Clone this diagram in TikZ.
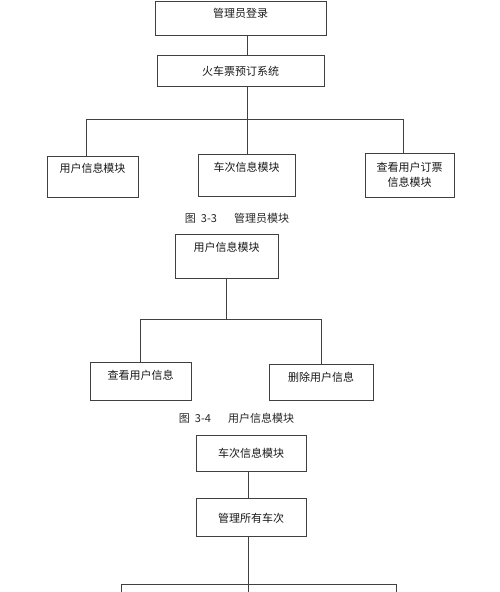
\documentclass[tikz,border=0pt]{standalone}
\usepackage{fontspec}
\newfontfamily\cjk{Noto Sans CJK SC}
\usetikzlibrary{positioning}

\begin{document}
\begin{tikzpicture}[
                x=1pt, y=-1pt,
                font=\cjk\fontsize{11}{15}\selectfont,
                line/.style={draw=black!75, line width=0.9pt},
                modbox/.style={draw=black!75, line width=0.9pt, fill=white, align=center, inner sep=2pt, text=black!90},
                lifted/.style={text height=9.6pt, text depth=#1},
                caption/.style={font=\cjk\fontsize{11}{13}\selectfont, text=black!85}]

    \useasboundingbox [fill=white] (0,0) rectangle (500,592);

    %%% NODES
    \node [modbox, minimum width=171pt, minimum height=34pt, lifted=10.8pt] (adminlogin) at (240.5,18) {管理员登录};
    \node [modbox, minimum width=167pt, minimum height=31pt, below=20pt of adminlogin] (ticketsys) {火车票预订系统};
    \node [modbox, minimum width=91pt, minimum height=41pt, lifted=18.4pt] (usermod) at (92.5,176.5) {用户信息模块};
    \node [modbox, minimum width=97pt, minimum height=42pt, lifted=17.4pt] (trainmod) at (246.5,175) {车次信息模块};
    \node [modbox, minimum width=89pt, minimum height=44pt] (ordermod) at (409.5,175) {查看用户订票\\信息模块};
    \node [caption] (capadmin) at (237,218) {图\hspace{5pt}3-3\hspace{17pt}管理员模块};

    \node [modbox, minimum width=103pt, minimum height=44pt, lifted=19.4pt] (userhead) at (226.5,256) {用户信息模块};
    \node [modbox, minimum width=101pt, minimum height=38pt, lifted=13.4pt] (viewuser) at (140.5,381) {查看用户信息};
    \node [modbox, minimum width=104pt, minimum height=36pt, lifted=11.4pt] (deluser) at (321,382) {删除用户信息};
    \node [caption] (capuser) at (236.5,418) {图\hspace{5pt}3-4\hspace{17pt}用户信息模块};

    \node [modbox, minimum width=110pt, minimum height=36pt] (trainhead) at (251,453) {车次信息模块};
    \node [modbox, minimum width=110pt, minimum height=38pt, below=27pt of trainhead] (managetrain) {管理所有车次};

    %%% FORKS
    \coordinate (fork1) at (247,119);
    \coordinate (fork1l) at (86,119);
    \coordinate (fork1r) at (403,119);
    \coordinate (fork2) at (226,319);
    \coordinate (fork2l) at (140,319);
    \coordinate (fork2r) at (321,319);
    \coordinate (fork3) at (248,584);
    \coordinate (fork3l) at (121,584);
    \coordinate (fork3r) at (396,584);
    \coordinate (end3l) at (121,594);
    \coordinate (end3) at (248,594);
    \coordinate (end3r) at (396,594);

    %%% CONNECTIONS
    \path [line] (adminlogin.south -| fork1) -- (ticketsys.north -| fork1);
    \path [line] (ticketsys.south -| fork1) -- (fork1);
    \path [line] (usermod.north -| fork1l) -- (fork1l) -- (fork1r) -- (ordermod.north -| fork1r);
    \path [line] (fork1) -- (trainmod.north -| fork1);

    \path [line] (userhead.south -| fork2) -- (fork2);
    \path [line] (viewuser.north -| fork2l) -- (fork2l) -- (fork2r) -- (deluser.north -| fork2r);

    \path [line] (trainhead.south -| fork3) -- (managetrain.north -| fork3);
    \path [line] (managetrain.south -| fork3) -- (end3);
    \path [line] (end3l) -- (fork3l) -- (fork3r) -- (end3r);

\end{tikzpicture}
\end{document}
